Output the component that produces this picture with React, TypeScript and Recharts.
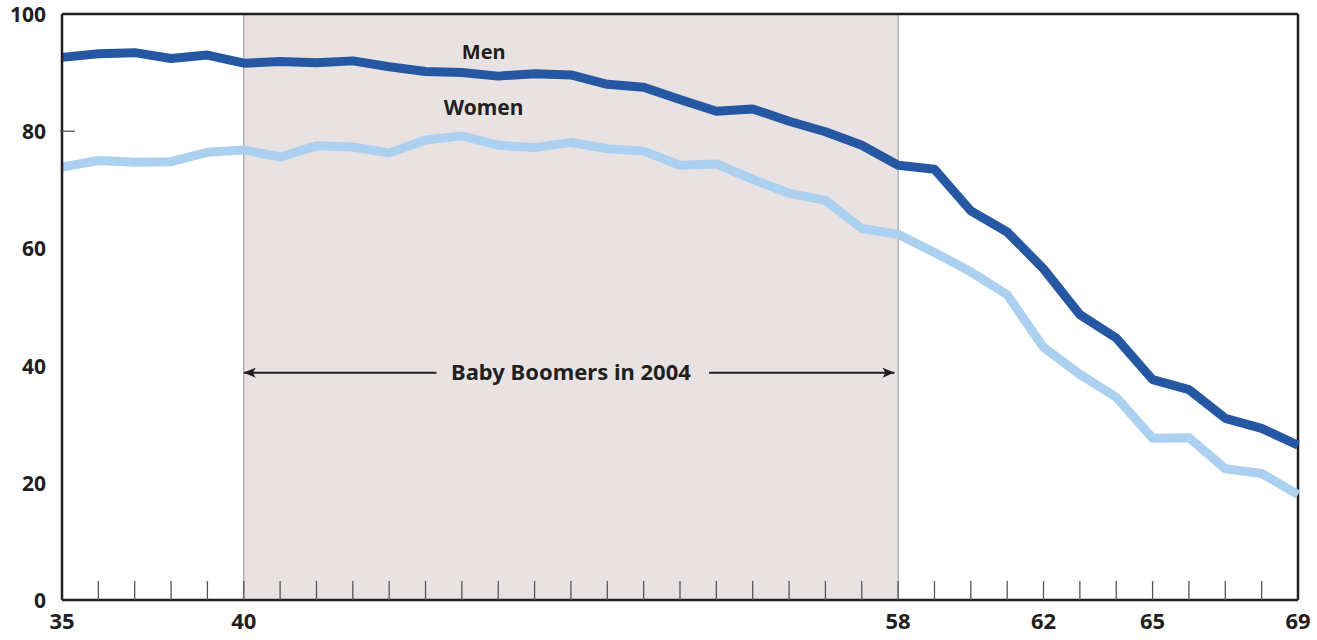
import React from "react";
import {
    LineChart,
    Line,
    XAxis,
    YAxis,
    ReferenceArea,
    ReferenceLine,
    ReferenceDot,
} from "recharts";

// labor force participation by age, 2004 (percent)
const ages = [
    35, 36, 37, 38, 39, 40, 41, 42, 43, 44, 45, 46, 47, 48, 49, 50, 51,
    52, 53, 54, 55, 56, 57, 58, 59, 60, 61, 62, 63, 64, 65, 66, 67, 68, 69,
];
const men = [
    92.6, 93.2, 93.4, 92.4, 93.0, 91.6, 91.9, 91.7, 92.0, 91.0, 90.2, 90.0,
    89.4, 89.8, 89.6, 88.0, 87.5, 85.4, 83.4, 83.8, 81.7, 79.9, 77.6, 74.2,
    73.5, 66.4, 62.8, 56.5, 48.7, 44.7, 37.6, 35.9, 31.0, 29.3, 26.4,
];
const women = [
    73.9, 75.0, 74.7, 74.8, 76.4, 76.8, 75.6, 77.5, 77.3, 76.3, 78.5, 79.2,
    77.6, 77.2, 78.1, 77.0, 76.6, 74.2, 74.4, 71.8, 69.4, 68.2, 63.4, 62.4,
    59.3, 56.0, 52.1, 43.1, 38.5, 34.6, 27.6, 27.7, 22.4, 21.6, 18.0,
];
const xLabels = [35, 40, 58, 62, 65, 69];
const yTicks = [0, 20, 40, 60, 80, 100];

const boomStart = 40;
const boomEnd = 58;
const arrowLevel = 38.8;

const data = ages.map((age, i) => ({ age, men: men[i], women: women[i] }));

const FONT = "'Noto Sans', sans-serif";
const INK = "#231f20";

const XTick = (props: any) => {
    const { x, y, payload } = props;
    const v = payload.value;
    return (
        <g>
            {v !== 35 && v !== 69 && (
                <line x1={x} y1={y - 2} x2={x} y2={y - 21} stroke="#555" strokeWidth={1.3} />
            )}
            {xLabels.includes(v) && (
                <text x={x} y={y + 27} textAnchor="middle" fontFamily={FONT}
                    fontWeight={700} fontSize={22} fill={INK}>
                    {v}
                </text>
            )}
        </g>
    );
};

const YTick = (props: any) => {
    const { x, y, payload } = props;
    return (
        <g>
            {payload.value === 80 && (
                <line x1={x} y1={y} x2={x + 15} y2={y} stroke="#555" strokeWidth={1.3} />
            )}
            <text x={x - 14} y={y + 8} textAnchor="end" fontFamily={FONT}
                fontWeight={700} fontSize={21} fill={INK}>
                {payload.value}
            </text>
        </g>
    );
};

const arrowLine = (p: any) => (
    <line x1={p.x1} y1={p.y1} x2={p.x2} y2={p.y2} stroke={INK} strokeWidth={2}
        markerEnd="url(#arrowHead)" />
);

export default function App() {
    return (
        <div style={{ width: 1317, height: 640, background: "#fff" }}>
            <style>{`body{margin:0}`}</style>
            <LineChart width={1317} height={640} data={data}
                margin={{ top: 14, right: 19, bottom: 0, left: 0 }}>
                <defs>
                    <marker id="arrowHead" viewBox="0 0 12 10" refX="12" refY="5"
                        markerWidth="12" markerHeight="10" markerUnits="userSpaceOnUse"
                        orient="auto">
                        <path d="M0,0 L12,5 L0,10 L3,5 Z" fill={INK} />
                    </marker>
                </defs>
                <ReferenceArea x1={boomStart} x2={boomEnd} y1={0} y2={100}
                    fill="#e8e3e2" fillOpacity={1} stroke="none" />
                <ReferenceLine x={boomStart} stroke="#a5a3a4" strokeWidth={1.2} />
                <ReferenceLine x={boomEnd} stroke="#a5a3a4" strokeWidth={1.2} />
                <XAxis dataKey="age" type="number" domain={[35, 69]} ticks={ages}
                    interval={0} height={40} tickLine={false} tickSize={0} tick={<XTick />}
                    axisLine={{ stroke: INK, strokeWidth: 2.5 }} />
                <YAxis type="number" domain={[0, 100]} ticks={yTicks} width={62}
                    tickLine={false} tickSize={0} tick={<YTick />}
                    axisLine={{ stroke: INK, strokeWidth: 2.5 }} />
                <ReferenceLine y={100} stroke={INK} strokeWidth={2.5} />
                <ReferenceLine x={69} stroke={INK} strokeWidth={2.5} />
                <Line dataKey="women" type="linear" stroke="#abd0f0" strokeWidth={9}
                    dot={false} isAnimationActive={false} strokeLinejoin="round" />
                <Line dataKey="men" type="linear" stroke="#2557a2" strokeWidth={9}
                    dot={false} isAnimationActive={false} strokeLinejoin="round" />
                <ReferenceLine
                    segment={[{ x: 45.3, y: arrowLevel }, { x: boomStart, y: arrowLevel }]}
                    shape={arrowLine} />
                <ReferenceLine
                    segment={[{ x: 52.8, y: arrowLevel }, { x: boomEnd - 0.1, y: arrowLevel }]}
                    shape={arrowLine} />
                <ReferenceDot x={49.0} y={arrowLevel} r={0} stroke="none" fill="none"
                    label={{ value: "Baby Boomers in 2004", position: "center", fontFamily: FONT,
                        fontWeight: 700, fontSize: 22, fill: INK }} />
                <ReferenceDot x={46.6} y={93.6} r={0} stroke="none" fill="none"
                    label={{ value: "Men", position: "center", fontFamily: FONT,
                        fontWeight: 700, fontSize: 20, fill: INK }} />
                <ReferenceDot x={46.6} y={84.1} r={0} stroke="none" fill="none"
                    label={{ value: "Women", position: "center", fontFamily: FONT,
                        fontWeight: 700, fontSize: 21, fill: INK }} />
            </LineChart>
        </div>
    );
}
